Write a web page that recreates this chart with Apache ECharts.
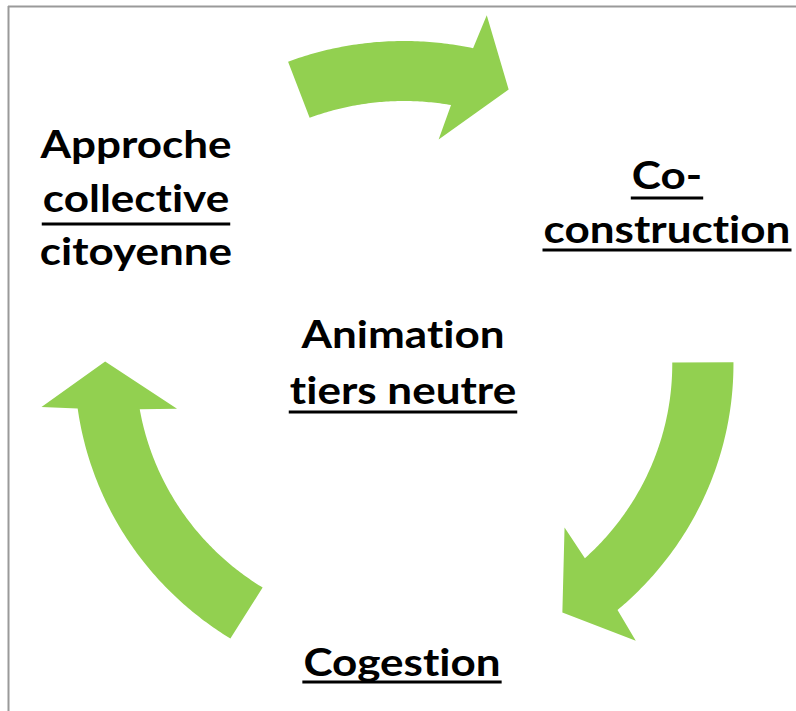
<!doctype html>
<html>
<head>
<meta charset="utf-8" />
<script src="https://cdn.jsdelivr.net/npm/echarts@6/dist/echarts.min.js"></script>
<style>
  html, body { margin: 0; padding: 0; background: #fff; }
  #chart { width: 796px; height: 711px; }
  #chart text {
    font-variant-ligatures: none !important;
    font-feature-settings: "liga" 0, "clig" 0 !important;
  }
</style>
</head>
<body>
<div id="chart"></div>
<script>
// three curved arrows on one ring, angles in degrees (0 = right, counter-clockwise positive)
const arrowTail = [110.6, 0.3, 238.2];
const arrowEnd = [78.9, -48.6, 188.9];

// text blocks, one entry per line
const labelLines = [
  ["Approche", "collective", "citoyenne"],
  ["Co-", "construction"],
  ["Animation", "tiers neutre"],
  ["Cogestion"]
];
const labelUnderline = [
  [false, true, false],
  [true, true],
  [false, true],
  [true]
];

// layout (pixels)
const ring = { cx: 404, cy: 364, sx: 1.02, rIn: 263, rOut: 323, headIn: 227, headOut: 358 };
const blockX = [136, 667, 403, 402];
const blockBaseline = [[157, 211, 264], [188, 242], [347, 403], [675]];
const blockUnderY = [[0, 224, 0], [198, 250], [0, 412], [682]];
const FONT = "Lato";
const FONT_SIZE = 39;
const GREEN = "#92d050";

const ctx = document.createElement("canvas").getContext("2d");
ctx.font = `bold ${FONT_SIZE}px ${FONT}`;
if ("letterSpacing" in ctx) ctx.letterSpacing = "0.01px"; // keeps ligatures out of the measure
const scaleX = 247 / ctx.measureText("construction").width;

function ringPoint(deg, r) {
  const a = deg * Math.PI / 180;
  return [ring.cx + ring.sx * r * Math.cos(a), ring.cy - r * Math.sin(a)];
}

function renderArrow(params, api) {
  const tail = api.value(0);
  const end = api.value(1);
  const pts = [];
  const steps = Math.ceil(Math.abs(tail - end) * 2);
  const endOut = end - 1;
  const endIn = end + 1;
  for (let i = 0; i <= steps; i++) {
    pts.push(ringPoint(tail + (endOut - tail) * i / steps, ring.rOut));
  }
  pts.push(ringPoint(end - 2, ring.headOut));
  pts.push(ringPoint(end - 9.4, (ring.rIn + ring.rOut) / 2));
  pts.push(ringPoint(end + 2.5, ring.headIn));
  for (let i = 0; i <= steps; i++) {
    pts.push(ringPoint(endIn + (tail - endIn) * i / steps, ring.rIn));
  }
  return {
    type: "polygon",
    shape: { points: pts.map((p) => api.coord(p)) },
    style: { fill: GREEN }
  };
}

const graphics = [
  { type: "line", shape: { x1: 8, y1: 6.5, x2: 796, y2: 6.5 }, style: { stroke: "#9a9a9a", lineWidth: 2 } },
  { type: "line", shape: { x1: 8.5, y1: 6, x2: 8.5, y2: 711 }, style: { stroke: "#9a9a9a", lineWidth: 2 } }
];

labelLines.forEach((lines, b) => {
  lines.forEach((txt, i) => {
    const base = blockBaseline[b][i];
    graphics.push({
      type: "text",
      x: blockX[b],
      y: base - 14,
      scaleX: scaleX,
      style: {
        text: txt,
        fill: "#000",
        font: `bold ${FONT_SIZE}px ${FONT}`,
        align: "center",
        verticalAlign: "middle"
      }
    });
    if (labelUnderline[b][i]) {
      const w = ctx.measureText(txt).width * scaleX;
      const uy = blockUnderY[b][i];
      graphics.push({
        type: "line",
        shape: { x1: blockX[b] - w / 2 - 1, y1: uy, x2: blockX[b] + w / 2 + 1, y2: uy },
        style: { stroke: "#000", lineWidth: 3 }
      });
    }
  });
});

const chart = echarts.init(document.getElementById("chart"), null, { renderer: "svg" });
chart.setOption({
  animation: false,
  backgroundColor: "#ffffff",
  grid: { left: 0, right: 0, top: 0, bottom: 0 },
  xAxis: { type: "value", min: 0, max: 796, show: false },
  yAxis: { type: "value", min: 0, max: 711, inverse: true, show: false },
  series: [
    {
      type: "custom",
      clip: false,
      renderItem: renderArrow,
      data: arrowTail.map((t, i) => [t, arrowEnd[i]])
    }
  ],
  graphic: graphics
});
</script>
</body>
</html>
